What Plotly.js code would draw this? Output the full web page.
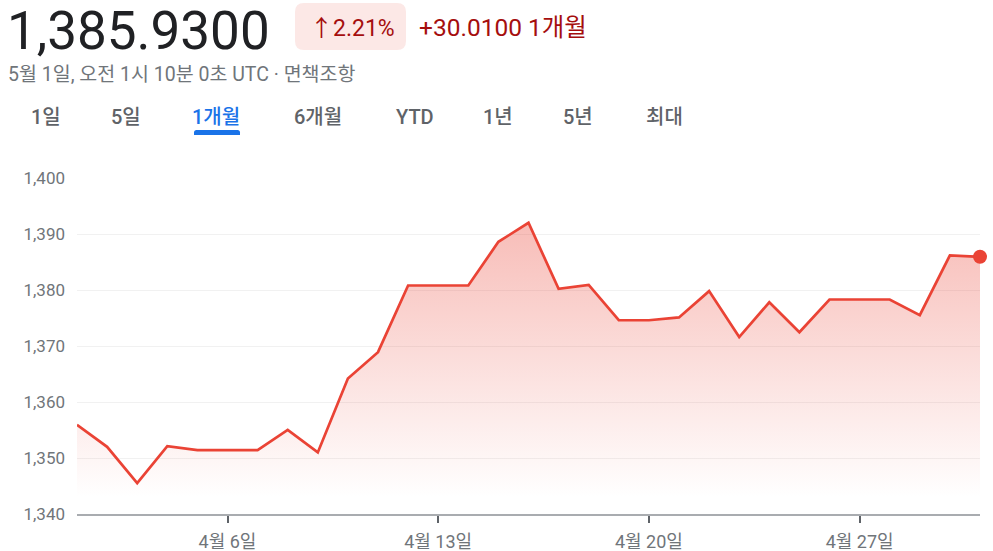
<!DOCTYPE html>
<html>
<head>
<meta charset="utf-8">
<script src="https://cdn.plot.ly/plotly-3.0.1.min.js"></script>
<style>
html,body{margin:0;padding:0;background:#fff;}
#chart{width:993px;height:551px;}
</style>
</head>
<body>
<div id="chart"></div>
<script>
// ---- DATA ----
const dates = [
  '2024-04-01','2024-04-02','2024-04-03','2024-04-04','2024-04-05','2024-04-06','2024-04-07',
  '2024-04-08','2024-04-09','2024-04-10','2024-04-11','2024-04-12','2024-04-13','2024-04-14',
  '2024-04-15','2024-04-16','2024-04-17','2024-04-18','2024-04-19','2024-04-20','2024-04-21',
  '2024-04-22','2024-04-23','2024-04-24','2024-04-25','2024-04-26','2024-04-27','2024-04-28',
  '2024-04-29','2024-04-30','2024-05-01'
];
const rates = [
  1355.92, 1352.0, 1345.5, 1352.1, 1351.4, 1351.4, 1351.4,
  1355.0, 1351.0, 1364.2, 1368.9, 1380.8, 1380.8, 1380.8,
  1388.6, 1392.0, 1380.2, 1380.9, 1374.6, 1374.6, 1375.1,
  1379.8, 1371.6, 1377.8, 1372.45, 1378.3, 1378.3, 1378.3,
  1375.5, 1386.2, 1385.93
];
const xTickVals = ['2024-04-06','2024-04-13','2024-04-20','2024-04-27'];
const xTickText = ['4월 6일','4월 13일','4월 20일','4월 27일'];
const yTickVals = [1340, 1350, 1360, 1370, 1380, 1390, 1400];

const priceText = '1,385.9300';
const pctText = '↑2.21%';
const changeText = '+30.0100 1개월';
const subText = '5월 1일, 오전 1시 10분 0초 UTC · 면책조항';
const tabLabels = ['1일','5일','1개월','6개월','YTD','1년','5년','최대'];
const activeTab = '1개월';

// ---- LAYOUT HELPERS (pixel -> paper) ----
const W = 993, H = 551;
const L = 77, R = 980, T = 178, B = 514;
const px = x => (x - L) / (R - L);
const py = y => (B - y) / (B - T);

function roundRect(x0, y0, x1, y1, r) {
  const a = px(x0), b = px(x1), c = py(y0), d = py(y1);
  const rx = r / (R - L), ry = r / (B - T);
  return `M${a+rx},${c} L${b-rx},${c} Q${b},${c} ${b},${c-ry} L${b},${d+ry} Q${b},${d} ${b-rx},${d} ` +
         `L${a+rx},${d} Q${a},${d} ${a},${d+ry} L${a},${c-ry} Q${a},${c} ${a+rx},${c} Z`;
}
function roundTop(x0, y0, x1, y1, r) {
  const a = px(x0), b = px(x1), c = py(y0), d = py(y1);
  const rx = r / (R - L), ry = r / (B - T);
  return `M${a},${d} L${a},${c-ry} Q${a},${c} ${a+rx},${c} L${b-rx},${c} Q${b},${c} ${b},${c-ry} L${b},${d} Z`;
}

const RED = '#ea4335';
const FONT = 'Roboto, "Noto Sans CJK KR", sans-serif';

const traces = [
  {
    x: dates, y: rates, type: 'scatter', mode: 'lines',
    line: {color: RED, width: 2.7},
    fill: 'tozeroy',
    fillgradient: {
      type: 'vertical',
      start: 1343, stop: 1393,
      colorscale: [[0, 'rgba(234,67,53,0)'], [1, 'rgba(234,67,53,0.36)']]
    },
    hoverinfo: 'skip'
  },
  {
    x: dates.slice(-1), y: rates.slice(-1), type: 'scatter', mode: 'markers',
    marker: {color: RED, size: 14},
    cliponaxis: false, hoverinfo: 'skip'
  }
];

const tabCenters = [46, 126, 216, 318, 415, 498, 578, 664];
const annotations = [
  {text: priceText, x: px(5), y: py(31), xref: 'paper', yref: 'paper', xanchor: 'left', yanchor: 'middle',
   showarrow: false, font: {family: FONT, size: 53, color: '#202124'}},
  {text: pctText, x: px(352), y: py(28), xref: 'paper', yref: 'paper', xanchor: 'center', yanchor: 'middle',
   showarrow: false, font: {family: FONT, size: 23, color: '#a50e0e'}},
  {text: changeText, x: px(417), y: py(27), xref: 'paper', yref: 'paper', xanchor: 'left', yanchor: 'middle',
   showarrow: false, font: {family: FONT, size: 24.5, color: '#a50e0e'}},
  {text: subText, x: px(6), y: py(74), xref: 'paper', yref: 'paper', xanchor: 'left', yanchor: 'middle',
   showarrow: false, font: {family: FONT, size: 19.5, color: '#70757a'}}
];
tabLabels.forEach((t, i) => {
  annotations.push({
    text: t, x: px(tabCenters[i]), y: py(117), xref: 'paper', yref: 'paper',
    xanchor: 'center', yanchor: 'middle', showarrow: false,
    font: {family: FONT, size: 20, weight: 500,
           color: t === activeTab ? '#1a73e8' : '#5f6368'}
  });
});

const shapes = [
  {type: 'path', xref: 'paper', yref: 'paper', path: roundRect(295, 3, 406, 50, 9),
   fillcolor: '#fce8e6', line: {width: 0}, layer: 'below'},
  {type: 'path', xref: 'paper', yref: 'paper', path: roundTop(194, 130, 240, 135, 2.5),
   fillcolor: '#1a73e8', line: {width: 0}}
];

const layout = {
  width: W, height: H,
  margin: {l: L, r: W - R, t: T, b: H - B, pad: 0},
  paper_bgcolor: '#fff', plot_bgcolor: '#fff',
  showlegend: false,
  hovermode: false,
  xaxis: {
    type: 'date',
    range: [dates[0], dates[dates.length - 1]],
    tickvals: xTickVals, ticktext: xTickText,
    showgrid: false, zeroline: false,
    showline: true, linecolor: '#a9acb0', linewidth: 1.5,
    ticks: 'outside', ticklen: 7, tickwidth: 2, tickcolor: '#5f6368',
    ticklabelstandoff: 4,
    tickfont: {family: FONT, size: 18, color: '#70757a'},
    fixedrange: true
  },
  yaxis: {
    range: [1340, 1400],
    tickvals: yTickVals, tickformat: ',d',
    showgrid: true, gridcolor: '#f1f1f1', gridwidth: 1,
    zeroline: false, showline: false,
    ticks: '', ticklabelstandoff: 11,
    tickfont: {family: FONT, size: 17, color: '#70757a'},
    fixedrange: true
  },
  annotations: annotations,
  shapes: shapes
};

Plotly.newPlot('chart', traces, layout, {displayModeBar: false, staticPlot: true});
</script>
</body>
</html>
